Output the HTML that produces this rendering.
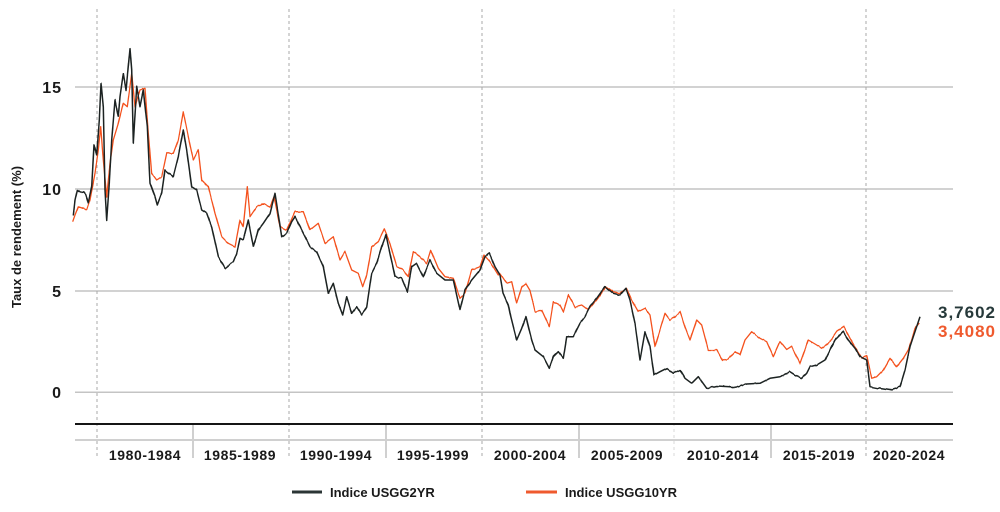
<!DOCTYPE html>
<html><head><meta charset="utf-8"><style>
html,body{margin:0;padding:0;background:#fff;}
svg{display:block;}
text{font-family:"Liberation Sans",sans-serif;font-weight:bold;fill:#1a1a1a;}
</style></head><body>
<svg width="1000" height="512" viewBox="0 0 1000 512" xmlns="http://www.w3.org/2000/svg">
<defs>
<filter id="j" filterUnits="userSpaceOnUse" x="0" y="0" width="1000" height="512">
<feTurbulence type="fractalNoise" baseFrequency="0.35 0.05" numOctaves="1" seed="3" result="t"/>
<feColorMatrix in="t" type="matrix" values="0 0 0 0 0.5  0 1 0 0 0  0 0 0 0 0  0 0 0 0 1" result="m"/>
<feDisplacementMap in="SourceGraphic" in2="m" scale="2.5" xChannelSelector="R" yChannelSelector="G"/>
</filter>
</defs>
<rect width="1000" height="512" fill="#fff"/>
<g stroke="#c4c4c4" stroke-width="1.5">
<line x1="75" y1="87" x2="953" y2="87"/>
<line x1="75" y1="189" x2="953" y2="189"/>
<line x1="75" y1="291" x2="953" y2="291"/>
<line x1="75" y1="392.3" x2="953" y2="392.3"/>
</g>
<g stroke="#a8a8a8" stroke-width="1" stroke-dasharray="3,3">
<line x1="97" y1="9" x2="97" y2="458"/>
<line x1="289" y1="9" x2="289" y2="458"/>
<line x1="482" y1="9" x2="482" y2="458"/>
<line x1="866" y1="9" x2="866" y2="458"/>
</g>
<line x1="674" y1="9" x2="674" y2="458" stroke="#d8d8d8" stroke-width="1" stroke-dasharray="3,3"/>
<line x1="75" y1="424" x2="953" y2="424" stroke="#151515" stroke-width="2"/>
<line x1="75" y1="440" x2="953" y2="440" stroke="#d0d0d0" stroke-width="2"/>
<g stroke="#d0d0d0" stroke-width="2">
<line x1="193" y1="425" x2="193" y2="458"/>
<line x1="386" y1="425" x2="386" y2="458"/>
<line x1="579" y1="425" x2="579" y2="458"/>
<line x1="771" y1="425" x2="771" y2="458"/>
</g>
<g font-size="16" text-anchor="end" letter-spacing="1">
<text x="62" y="93">15</text>
<text x="62" y="195">10</text>
<text x="62" y="297">5</text>
<text x="62" y="398">0</text>
</g>
<text transform="translate(21,237) rotate(-90)" font-size="13" text-anchor="middle">Taux de rendement (%)</text>
<g font-size="14" text-anchor="middle" letter-spacing="0.6">
<text x="145" y="460">1980-1984</text>
<text x="240" y="460">1985-1989</text>
<text x="336" y="460">1990-1994</text>
<text x="433" y="460">1995-1999</text>
<text x="530" y="460">2000-2004</text>
<text x="627" y="460">2005-2009</text>
<text x="723" y="460">2010-2014</text>
<text x="819" y="460">2015-2019</text>
<text x="909" y="460">2020-2024</text>
</g>
<g filter="url(#j)">
<polyline fill="none" stroke="#f4511e" stroke-width="1.3" stroke-linejoin="round" points="72.7,221.7,75,215,78.3,206.7,82,208,86.7,210,90,200,95,173.3,98.3,150,100.7,126.7,103.3,160,106.7,196.7,110,163.3,113.3,140,118.3,123.3,123.3,103.3,127.3,106.7,131.7,73.3,135,106.7,140,90,145,88.3,148.3,133.3,151.7,173.3,156.7,180,161.7,176.7,166.7,153.3,173.3,153.3,178.3,140,183.3,111.7,188.3,136.7,193.3,160,198.3,150,201.7,180,208.3,186.7,215,213.3,221.7,236.7,228.3,243.3,235,246.7,240,220,243.3,226.7,247.3,186.7,250,216.7,256.7,206.7,263.3,203.3,270,206.7,274,196.7,280,226.7,286.7,230,288.3,226.7,295,211.7,303.3,211.7,310,230,318.3,223.3,325,243.3,333.3,236.7,340,260,345,251.7,351.7,270,358.3,273.3,362.7,286.7,366.7,275,371.7,246.7,378.3,241.7,384.3,229.3,390,243.3,396.7,266.7,403.3,270,408.3,276.7,413.3,251.7,420,256.7,426.7,263.3,430.7,250,438.3,268.3,445,276.7,453.3,278.3,460,298.3,465,293.3,471.7,270,480,266.7,484,255,490,261.7,498.3,275,500,273.3,506.7,283.3,511.7,281.7,516.7,303.3,521.7,286.7,526,283.3,530,290,535,311.7,541.7,310,549.3,326.7,553.3,301.7,560,305,563.3,311.7,568.3,295,575,306.7,581.7,305,588.3,310,596.7,300,606,286.7,613.3,291.7,620,293.3,626.7,288.3,631.7,300,638.3,311.7,645,308.3,650,315,655,346.7,660,330,665,313.3,670,320,675,316.7,680,311.7,685,326.7,690,340,696.7,320,701.7,325,708.3,350,716.7,350,722.7,360.5,728,359,735,351.7,740,355,745,340,751.7,331.7,760,338.3,766.7,341.7,773.3,356.7,780,341.7,786.7,350,791.7,346.7,800,363.3,808.3,340,816.7,345,821.7,348.3,830,341.7,836.7,331.7,844,326.7,850,338.3,856.7,350,861.7,358.3,866.7,355,871.7,378.3,876.7,376.7,883.3,370,890,358.3,896.7,366.7,903.3,358.3,908.3,350,911.7,340,915,328.3,919.3,323"/>
<polyline fill="none" stroke="#1b2420" stroke-width="1.5" stroke-linejoin="round" points="73.3,215,75,200,77.3,190,80,192,83.3,191.7,86,195,88.3,203,91.7,186.7,94,145,96.7,155,99.3,120,101,83.3,103.3,106.7,105,190,106.7,220,109.3,183,111.7,140,115,100,118.3,116.7,120,96.7,123.3,73.3,126,90,130,48.3,131.7,70,133.3,143,136.7,86.7,140,106.7,143.3,90,147.3,126.7,150,183.3,155,196.7,157.3,205,161.7,193,165,170,168.3,173,173.3,176.7,178.3,156.7,183.3,130,186.7,150,191.7,186.7,196.7,190,201.7,210,206.7,213.3,211.7,226.7,218.3,256.7,225,268.3,233.3,261.7,236.7,253.3,240,238.3,243.3,240,248.3,220,253.3,246.7,258.3,230,263.3,223.3,270,213.3,275,193.3,281.7,236.7,286.7,233.3,291.7,221.7,295,216.7,301.7,230,310,246.7,316.7,251.7,323.3,266.7,328.3,293.3,333.3,283.3,338.3,303.3,342.7,315,346.7,296.7,351.7,313.3,356.7,306.7,361.7,315,366.7,306.7,371.7,273.3,376.7,263.3,381.7,246.7,386,235,390,253.3,395,276.7,401.7,278.3,407.3,291.7,411.7,266.7,416.7,263.3,423.3,276.7,430,260,436.7,273.3,445,280,453.3,280,460,310,465,290,471.7,280,480,270,485,256.7,489.3,253.3,495,266.7,500,275,503,293,508.3,305,510,313.3,516.7,340,521.7,328.3,526,316.7,531.7,340,535,350,543.3,356.7,549.3,368.3,553.3,356.7,558.3,351.7,563.3,358.3,566.7,336.7,573.3,336.7,580,323.3,585,316.7,590,306.7,596.7,298.3,605,286.7,613.3,293.3,620,295,626,288.3,630,300,635,323.3,640,360,645,331.7,650,346.7,654,375,660,371.7,666.7,368.3,673.3,373.3,680,370,685,378.3,691.7,383.3,698.3,376.7,706.7,388.3,716.7,386,730,386.7,736.7,387.3,746.7,384,760,383.3,770,378.3,780,376.7,790,371.7,795,375,801.7,378.3,806.7,373.3,810,366.7,816.7,365,825,360,830,350,835,340,843.3,331.7,848.3,340,855,348.3,860,356.7,866.7,360,870,386.7,878.3,388.3,890,390,900,386.7,905,370,910,346.7,913.3,336.7,920,316.7"/>
</g>
<text x="938" y="318" font-size="17" letter-spacing="1" style="fill:#26393a">3,7602</text>
<text x="938" y="337" font-size="17" letter-spacing="1" style="fill:#ef5a2e">3,4080</text>
<line x1="292" y1="492" x2="322" y2="492" stroke="#2b3535" stroke-width="3"/>
<text x="330" y="497" font-size="13">Indice USGG2YR</text>
<line x1="526" y1="492" x2="557" y2="492" stroke="#ef5a2e" stroke-width="3"/>
<text x="565" y="497" font-size="13">Indice USGG10YR</text>
</svg>
</body></html>
